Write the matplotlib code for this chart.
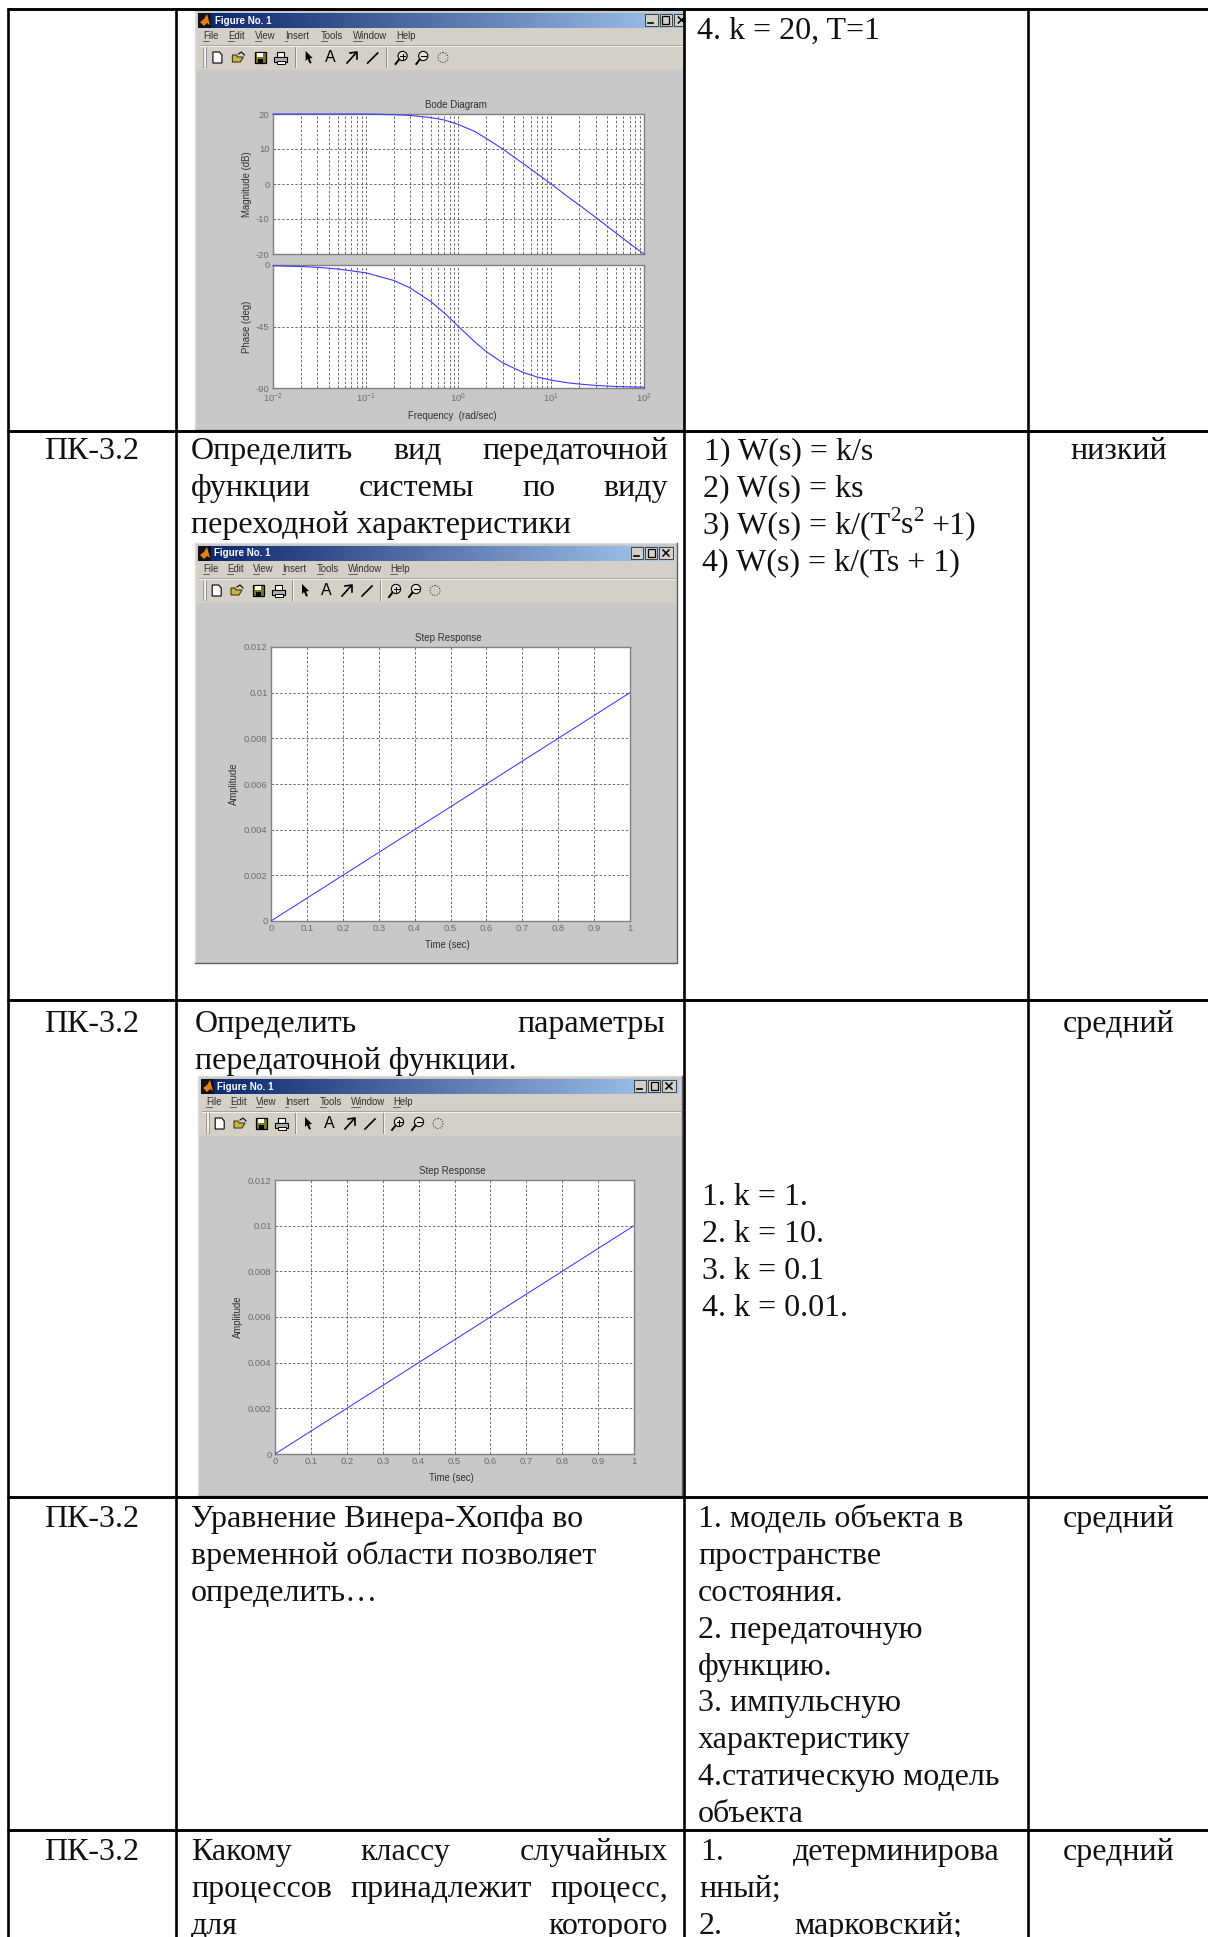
# Exam table page with three MATLAB figure windows pasted into it

import numpy as np
import matplotlib
matplotlib.use('Agg')
import matplotlib.pyplot as plt
from matplotlib.patches import Rectangle, Polygon, Circle
from matplotlib.ticker import LogLocator, NullFormatter

WIDTH = 1208
HEIGHT = 1937

# ---- values ---- #
bodeFreq = [0.01, 0.02, 0.03, 0.05, 0.1, 0.2, 0.3, 0.5, 0.7, 1, 1.5, 2, 3, 5, 7, 10, 15, 20, 30, 50, 70, 100]
bodeMag = [20, 20, 20, 20, 20, 19.8, 19.6, 19, 18.3, 17, 15, 13, 10, 5.8, 3, 0, -3.6, -6, -9.5, -14, -17, -20]
bodePhase = [-0.6, -1.1, -1.7, -2.9, -5.7, -11.3, -16.7, -26.6, -35, -45, -56.3, -63.4, -71.6, -78.7, -81.9, -84.3, -86.2, -87.1, -88.1, -88.9, -89.2, -89.4]
magTicks = [-20, -10, 0, 10, 20]
phaseTicks = [-90, -45, 0]

stepTime = [0, 0.1, 0.2, 0.3, 0.4, 0.5, 0.6, 0.7, 0.8, 0.9, 1]
stepAmp = [0, 0.001, 0.002, 0.003, 0.004, 0.005, 0.006, 0.007, 0.008, 0.009, 0.01]
stepXTicks = [0, 0.1, 0.2, 0.3, 0.4, 0.5, 0.6, 0.7, 0.8, 0.9, 1]
stepXLabels = ['0', '0.1', '0.2', '0.3', '0.4', '0.5', '0.6', '0.7', '0.8', '0.9', '1']
stepYTicks = [0, 0.002, 0.004, 0.006, 0.008, 0.01, 0.012]
stepYLabels = ['0', '0.002', '0.004', '0.006', '0.008', '0.01', '0.012']

menuNames = ['File', 'Edit', 'View', 'Insert', 'Tools', 'Window', 'Help']

plt.rcParams['font.family'] = ['Liberation Sans', 'DejaVu Sans']
plt.rcParams['axes.unicode_minus'] = False

SERIF = ['Liberation Serif', 'DejaVu Serif']
BODY = 23.0
INK = '#111111'
GRID = '#6e6e6e'

fig = plt.figure(figsize=(WIDTH / 100, HEIGHT / 100), dpi=100)
fig.patch.set_facecolor('white')

bg = fig.add_axes([0, 0, 1, 1], zorder=0)
bg.set_xlim(0, WIDTH)
bg.set_ylim(HEIGHT, 0)
bg.axis('off')


def pxAxes(x0, y0, x1, y1):
	ax = fig.add_axes([x0 / WIDTH, 1 - y1 / HEIGHT, (x1 - x0) / WIDTH, (y1 - y0) / HEIGHT], zorder=2)
	ax.set_facecolor('white')
	for spine in ax.spines.values():
		spine.set_color('#808080')
		spine.set_linewidth(1.0)
	ax.tick_params(which='both', direction='in', color='#707070', labelcolor='#6a6a6a', labelsize=6.8, pad=2.5, length=2, width=0.6)
	return ax


def rect(x0, y0, x1, y1, color, z=1):
	bg.add_patch(Rectangle((x0, y0), x1 - x0, y1 - y0, facecolor=color, edgecolor='none', zorder=z))


def drawToolbar(x0, y0, sx):
	c = y0 + 48
	X = lambda v: x0 + v * sx
	# grip and separators
	rect(X(8), c - 11, X(11), c + 9, '#f2f0ea', 3)
	bg.plot([X(8), X(8)], [c - 11, c + 9], color='#8a8a8a', lw=0.6, zorder=4)
	bg.plot([X(11), X(11)], [c - 11, c + 9], color='#8a8a8a', lw=0.6, zorder=4)
	for v in [97, 185]:
		bg.plot([X(v), X(v)], [c - 11, c + 9], color='#8f8c86', lw=0.7, zorder=4)
		bg.plot([X(v) + 1, X(v) + 1], [c - 11, c + 9], color='#f5f5f5', lw=0.7, zorder=4)
	# new
	n = X(21.7)
	bg.add_patch(Polygon([(n - 4.5, c - 6), (n + 2, c - 6), (n + 4.5, c - 3), (n + 4.5, c + 5), (n - 4.5, c + 5)], closed=True, facecolor='white', edgecolor='black', lw=0.8, zorder=4))
	# open
	n = X(42)
	bg.add_patch(Polygon([(n - 6, c - 3), (n - 2, c - 3), (n - 1, c - 1), (n + 5, c - 1), (n + 2, c + 4), (n - 6, c + 4)], closed=True, facecolor='#c8b44a', edgecolor='#3a3a10', lw=0.8, zorder=4))
	bg.plot([n, n + 3, n + 6], [c - 4, c - 6, c - 3], color='black', lw=0.8, zorder=4)
	# save
	n = X(63)
	bg.add_patch(Rectangle((n - 5.5, c - 6), 11, 11, facecolor='#7d7a20', edgecolor='black', lw=0.9, zorder=4))
	bg.add_patch(Rectangle((n - 3, c - 5.5), 6, 4, facecolor='white', edgecolor='none', zorder=5))
	bg.add_patch(Rectangle((n - 2.5, c + 1), 5, 4, facecolor='black', edgecolor='none', zorder=5))
	# print
	n = X(83)
	bg.add_patch(Rectangle((n - 3.5, c - 6), 7, 5, facecolor='white', edgecolor='black', lw=0.8, zorder=4))
	bg.add_patch(Rectangle((n - 6.5, c - 1), 13, 5, facecolor='#b0b0b0', edgecolor='black', lw=0.8, zorder=5))
	bg.add_patch(Rectangle((n - 3.5, c + 3), 8, 2.5, facecolor='white', edgecolor='black', lw=0.7, zorder=5))
	# pointer
	n = X(110)
	bg.add_patch(Polygon([(n - 3, c - 7), (n + 4, c), (n + 1, c + 0.5), (n + 3, c + 5), (n + 1, c + 5.5), (n - 1, c + 1), (n - 3, c + 3)], closed=True, facecolor='black', edgecolor='none', zorder=4))
	# text tool
	bg.text(X(131), c - 0.5, 'A', fontsize=11.5, ha='center', va='center', color='black', zorder=4)
	# arrow and line tools
	n = X(152)
	bg.plot([n - 5, n + 4], [c + 5, c - 5], color='black', lw=1.2, zorder=4)
	bg.plot([n - 2, n + 5, n + 5], [c - 5, c - 6, c + 1], color='black', lw=1.2, zorder=4)
	n = X(172)
	bg.plot([n - 5, n + 5], [c + 5, c - 5], color='black', lw=1.2, zorder=4)
	# zoom in, zoom out
	for v, plus in [(200, True), (220, False)]:
		n = X(v)
		bg.add_patch(Circle((n + 1, c - 2), 4.6, facecolor='#e8e6df', edgecolor='black', lw=0.8, zorder=4))
		bg.plot([n - 6, n - 2.5], [c + 6, c + 1.5], color='black', lw=1.4, zorder=4)
		bg.plot([n - 1.5, n + 3.5], [c - 2, c - 2], color='black', lw=0.8, zorder=5)
		if plus:
			bg.plot([n + 1, n + 1], [c - 4.5, c + 0.5], color='black', lw=0.8, zorder=5)
	# rotate
	n = X(240)
	bg.add_patch(Circle((n, c - 0.5), 5, facecolor='none', edgecolor='#404040', lw=0.8, linestyle=(0, (1, 1.3)), zorder=4))


def drawWindow(x0, y0, x1, y1, sx=1.0):
	renderer = fig.canvas.get_renderer()
	rect(x0, y0, x1, y1, '#c8c8c8', 1)
	rect(x0, y0 + 3, x1, y0 + 60, '#d4d0c8', 2)
	bg.plot([x0, x0, x1], [y1, y0, y0], color='#dedcd6', lw=1.0, zorder=3)
	bg.plot([x0, x1, x1], [y1, y1, y0], color='#606060', lw=1.0, zorder=3)
	# title bar
	bg.imshow(np.linspace(0, 1, 256).reshape(1, -1), extent=(x0 + 3, x1 - 3, y0 + 18, y0 + 3), aspect='auto', zorder=3,
		cmap=matplotlib.colors.LinearSegmentedColormap.from_list('caption', ['#0a246a', '#a6caf0']))
	bg.set_xlim(0, WIDTH)
	bg.set_ylim(HEIGHT, 0)
	rect(x0 + 3, y0 + 3, x0 + 16, y0 + 18, '#101020', 4)
	bg.add_patch(Polygon([(x0 + 5, y0 + 12), (x0 + 9, y0 + 9), (x0 + 12, y0 + 4), (x0 + 15, y0 + 15), (x0 + 12, y0 + 13), (x0 + 9, y0 + 16)], closed=True, facecolor='#e8801a', edgecolor='none', zorder=5))
	bg.text(x0 + 19 * sx, y0 + 10.5, 'Figure No. 1', color='white', fontsize=7, fontweight='bold', va='center', zorder=5)
	# caption buttons
	for i, (a, b) in enumerate([(436, 448), (450, 462), (464, 478)]):
		bx0 = x0 + a * sx
		bx1 = x0 + b * sx
		by0 = y0 + 4
		by1 = y0 + 16
		bg.add_patch(Rectangle((bx0, by0), bx1 - bx0, by1 - by0, facecolor='#d4d0c8', edgecolor='#404040', lw=0.7, zorder=5))
		if i == 0:
			bg.plot([bx0 + 3, bx0 + 8], [by1 - 3, by1 - 3], color='black', lw=1.2, zorder=6)
		elif i == 1:
			bg.add_patch(Rectangle((bx0 + 2.5, by0 + 2), 7, 7.5, facecolor='none', edgecolor='black', lw=0.9, zorder=6))
		else:
			bg.plot([bx0 + 4, bx1 - 4], [by0 + 3, by1 - 3], color='black', lw=1.1, zorder=6)
			bg.plot([bx0 + 4, bx1 - 4], [by1 - 3, by0 + 3], color='black', lw=1.1, zorder=6)
	# menu, first letters underlined
	for name, v in zip(menuNames, [8, 32, 58, 87, 122, 153, 195]):
		mx = x0 + v * sx
		bg.text(mx, y0 + 26, name, fontsize=6.9, color='#303030', va='center', zorder=5)
		probe = bg.text(mx, y0 + 26, name[0], fontsize=6.9)
		w = probe.get_window_extent(renderer).width
		probe.remove()
		bg.plot([mx, mx + w], [y0 + 31, y0 + 31], color='#505050', lw=0.6, zorder=5)
	bg.plot([x0 + 4, x1 - 2], [y0 + 35, y0 + 35], color='#a8a59e', lw=0.7, zorder=4)
	bg.plot([x0 + 4, x1 - 2], [y0 + 36, y0 + 36], color='#f4f3ef', lw=0.7, zorder=4)
	drawToolbar(x0, y0, sx)


def drawStep(x0, y0, x1, y1):
	ax = pxAxes(x0, y0, x1, y1)
	ax.plot(stepTime, stepAmp, color='#3a3aff', lw=0.75, zorder=3)
	ax.set_xlim(0, 1)
	ax.set_ylim(0, 0.012)
	ax.set_xticks(stepXTicks)
	ax.set_xticklabels(stepXLabels)
	ax.set_yticks(stepYTicks)
	ax.set_yticklabels(stepYLabels)
	ax.grid(True, color=GRID, lw=0.7, linestyle=(0, (2.5, 2)))
	ax.set_axisbelow(True)
	ax.set_title('Step Response', fontsize=7, color='#303030', pad=4, x=0.5 - 2.5 / (x1 - x0))
	ax.set_xlabel('Time (sec)', fontsize=6.9, color='#303030', va='center')
	ax.xaxis.set_label_coords(0.5 - 3.5 / (x1 - x0), -24 / (y1 - y0))
	ax.set_ylabel('Amplitude', fontsize=6.9, color='#303030', va='center')
	ax.yaxis.set_label_coords(-37 / (x1 - x0), 0.5)


def drawBode(x0, y0, xm, ym0, ym1, y1):
	for top, bottom, values, ticks, label, ymin, ymax in [
		(y0, ym0, bodeMag, magTicks, 'Magnitude (dB)', -20, 20),
		(ym1, y1, bodePhase, phaseTicks, 'Phase (deg)', -90, 0)]:
		ax = pxAxes(x0, top, xm, bottom)
		# above the spines so the flat start at 20 dB stays blue
		ax.semilogx(bodeFreq, values, color='#3a3aff', lw=0.8, zorder=3, clip_on=False)
		ax.set_xlim(0.01, 100)
		ax.set_ylim(ymin, ymax)
		ax.set_yticks(ticks)
		ax.xaxis.set_major_locator(LogLocator(base=10, numticks=6))
		ax.xaxis.set_minor_locator(LogLocator(base=10, subs=[2, 3, 4, 5, 6, 7, 8, 9], numticks=12))
		ax.xaxis.set_minor_formatter(NullFormatter())
		ax.grid(True, which='major', color=GRID, lw=0.7, linestyle=(0, (2.5, 2)))
		ax.grid(True, which='minor', axis='x', color=GRID, lw=0.7, linestyle=(0, (2.5, 2)))
		ax.set_axisbelow(True)
		ax.set_ylabel(label, fontsize=6.9, color='#303030', va='center')
		ax.yaxis.set_label_coords(-26 / (xm - x0), 0.5)
		if top == y0:
			ax.set_title('Bode Diagram', fontsize=7, color='#303030', pad=4, x=0.5 - 2.5 / (xm - x0))
			ax.tick_params(axis='x', which='both', labelbottom=False)
		else:
			ax.set_xlabel('Frequency  (rad/sec)', fontsize=6.9, color='#303030', va='center')
			ax.xaxis.set_label_coords(0.5 - 6 / (xm - x0), -28 / (bottom - top))


def words(line, x0, x1, y):
	# justified line: first word on the left edge, last on the right edge
	parts = line.split()
	renderer = fig.canvas.get_renderer()
	items = [bg.text(0, y, p, family=SERIF, fontsize=BODY, color=INK, va='baseline', zorder=8) for p in parts]
	sizes = [t.get_window_extent(renderer).width for t in items]
	gap = (x1 - x0 - sum(sizes)) / (len(parts) - 1)
	x = x0
	for t, w in zip(items, sizes):
		t.set_x(x)
		x += w + gap


def plain(line, x, y, ha='left'):
	bg.text(x, y, line, family=SERIF, fontsize=BODY, color=INK, ha=ha, va='baseline', zorder=8)


def runs(pieces, x, y):
	# pieces: text, size, raise, gap before
	renderer = fig.canvas.get_renderer()
	for line, size, lift, gap in pieces:
		x += gap
		t = bg.text(x, y - lift, line, family=SERIF, fontsize=size, color=INK, va='baseline', zorder=8)
		x += t.get_window_extent(renderer).width


# ---- figure windows ---- #
drawWindow(195, 10, 700, 430, sx=1.033)
drawWindow(195, 543, 677, 963)
drawWindow(198, 1076, 682, 1496)
rect(685, 0, 1027, 431, 'white', 7)

drawBode(273, 114, 644, 254, 265, 388)
drawStep(271, 647, 630, 921)
drawStep(275, 1180, 634, 1454)

# ---- table rules ---- #
for y in [9, 431, 1000, 1497, 1830]:
	bg.plot([6.5, WIDTH], [y, y], color='black', lw=2.1, solid_capstyle='butt', zorder=7)
for x in [7.5, 176, 684, 1028]:
	bg.plot([x, x], [8, HEIGHT], color='black', lw=1.9, solid_capstyle='butt', zorder=7)

# ---- table text ---- #
plain('4. k = 20, T=1', 697, 39)

plain('ПК-3.2', 91.5, 459, 'center')
words('Определить вид передаточной', 191, 668, 459)
words('функции системы по виду', 191, 668, 496)
plain('переходной характеристики', 191, 533)
plain('1) W(s) = k/s', 704, 459)
plain('2) W(s) = ks', 703, 496)
runs([('3) W(s) = k/(T', BODY, 0, 0), ('2', 15, 12, 0), ('s', BODY, 0, 0), ('2', 15, 12, 0), ('+1)', BODY, 0, 8)], 703, 533)
plain('4) W(s) = k/(Ts + 1)', 702, 570)
plain('низкий', 1119, 459, 'center')

plain('ПК-3.2', 91.5, 1032, 'center')
words('Определить параметры', 195, 665, 1032)
plain('передаточной функции.', 195, 1069)
plain('1. k = 1.', 702, 1205)
plain('2. k = 10.', 702, 1242)
plain('3. k = 0.1', 702, 1279)
plain('4. k = 0.01.', 702, 1316)
plain('средний', 1118.5, 1032, 'center')

plain('ПК-3.2', 91.5, 1527, 'center')
plain('Уравнение Винера-Хопфа во', 191, 1527)
plain('временной области позволяет', 191, 1564)
plain('определить…', 191, 1601)
answerLines = ['1. модель объекта в', 'пространстве', 'состояния.', '2. передаточную', 'функцию.',
	'3. импульсную', 'характеристику', '4.статическую модель', 'объекта']
for i, line in enumerate(answerLines):
	plain(line, 698, 1527 + i * 36.9)
plain('средний', 1118.5, 1527, 'center')

plain('ПК-3.2', 91.5, 1860, 'center')
words('Какому классу случайных', 191, 668, 1860)
words('процессов принадлежит процесс,', 191, 668, 1897)
words('для которого', 191, 668, 1934)
words('1. детерминирова', 700, 1000, 1860)
plain('нный;', 699, 1897)
words('2. марковский;', 699, 962, 1934)
plain('средний', 1118.5, 1860, 'center')

fig.savefig('out.png', dpi=100, facecolor='white')
